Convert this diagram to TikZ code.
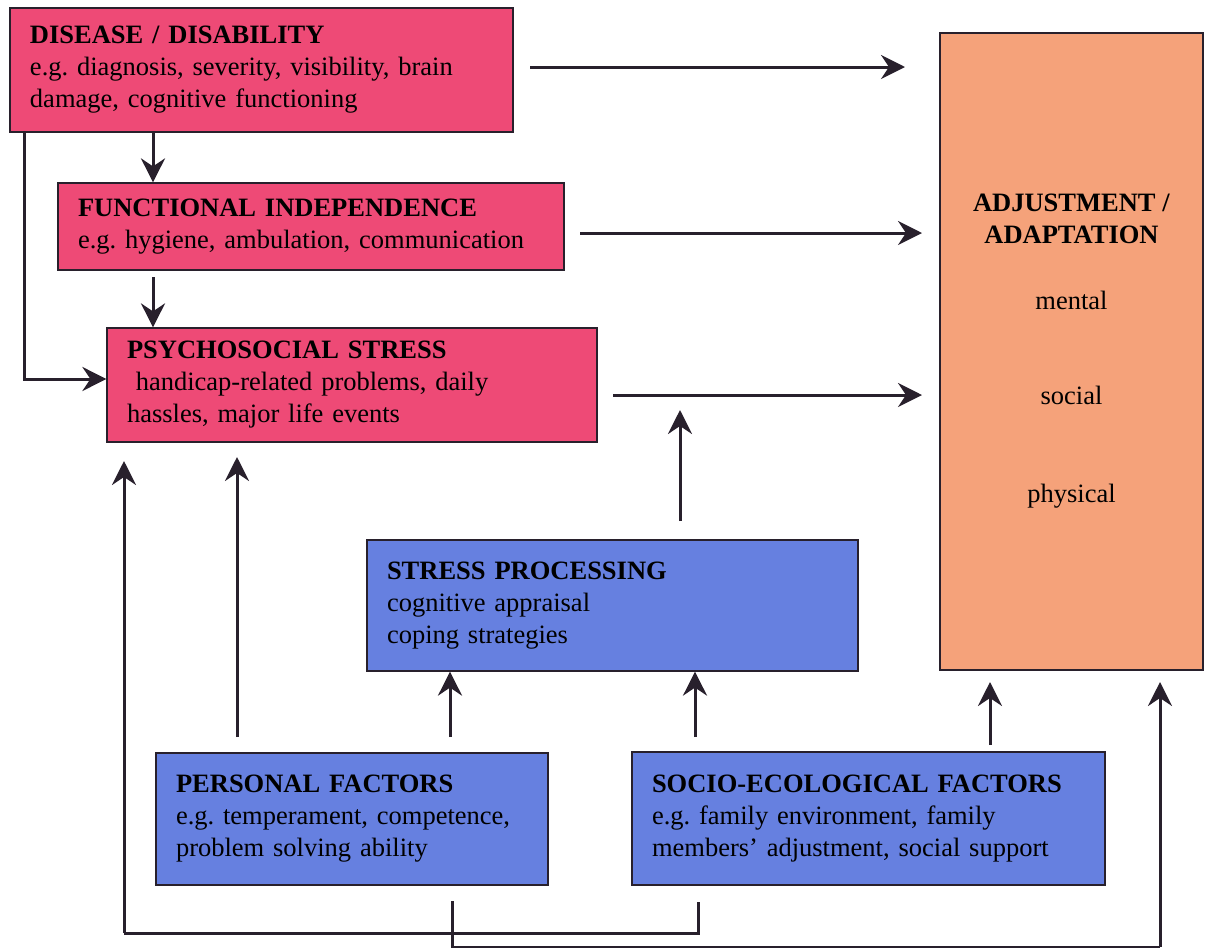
\documentclass[tikz,border=0pt]{standalone}
\usepackage{fontspec}
\setmainfont{Liberation Serif}
\usetikzlibrary{arrows.meta}

\definecolor{boxpink}{RGB}{238,74,118}
\definecolor{boxblue}{RGB}{102,128,224}
\definecolor{boxorange}{RGB}{245,162,122}
\definecolor{linedark}{RGB}{40,32,44}

\tikzset{
  box/.style={draw=linedark,line width=1.2pt,inner xsep=20pt,inner ysep=0pt,
    align=left,font=\fontsize{26.5}{32}\selectfont},
  pinkbox/.style={box,fill=boxpink},
  bluebox/.style={box,fill=boxblue},
  arr/.style={draw=linedark,line width=3pt,
    -{Stealth[length=24pt,width=24pt,inset=8pt]}},
  plain/.style={draw=linedark,line width=3pt}
}

\begin{document}
\begin{tikzpicture}[x=1pt,y=-1pt]
\useasboundingbox (0,0) rectangle (1211,948);

% left column
\node[pinkbox,minimum width=503pt,minimum height=124pt,text width=463pt] (dis) at (261.5,70)
  {\textbf{DISEASE / DISABILITY}\\e.g.\ diagnosis, severity, visibility, brain\\damage, cognitive functioning};
\node[pinkbox,minimum width=506pt,minimum height=87pt,text width=466pt] (fun) at (311,226.5)
  {\textbf{FUNCTIONAL INDEPENDENCE}\\e.g.\ hygiene, ambulation, communication};
\node[pinkbox,minimum width=490pt,minimum height=114pt,text width=450pt] (psy) at (352,385)
  {\textbf{PSYCHOSOCIAL STRESS}\\\ handicap-related problems, daily\\hassles, major life events};

% outcome
\node[box,fill=boxorange,align=center,minimum width=263pt,minimum height=637pt] (adj) at (1071.5,351.5)
  {\textbf{ADJUSTMENT /}\\\textbf{ADAPTATION}\\[34pt]mental\\[63pt]social\\[66pt]physical};

% moderators
\node[bluebox,minimum width=491pt,minimum height=131pt,text width=451pt] (spr) at (612.5,605.5)
  {\textbf{STRESS PROCESSING}\\cognitive appraisal\\coping strategies\\[10pt]};
\node[bluebox,minimum width=392pt,minimum height=132pt,text width=352pt] (per) at (352,819)
  {\textbf{PERSONAL FACTORS}\\e.g.\ temperament, competence,\\problem solving ability};
\node[bluebox,minimum width=473pt,minimum height=133pt,text width=433pt] (soc) at (868.5,818.5)
  {\textbf{SOCIO-ECOLOGICAL FACTORS}\\e.g.\ family environment, family\\members' adjustment, social support};

\coordinate (lowL) at (124,933);
\coordinate (lowR) at (1160,947);

% down the left column
\draw[arr] (dis.south -| 153,0) -- (fun.north -| 153,0);
\draw[arr] (153,277) -- (psy.north -| 153,0);
\draw[arr] (dis.south -| 24,0) -- (24,379) -- (psy.west |- 0,379);

% into adjustment
\draw[arr] (530,67) -- (905,67);
\draw[arr] (580,233) -- (922,233);
\draw[arr] (613,395) -- (922,395);

% upward arrows
\draw[arr] (680,521) -- (680,410);
\draw[arr] (237,737) -- (237,457);
\draw[arr] (450,737) -- (spr.south -| 450,0);
\draw[arr] (695,737) -- (spr.south -| 695,0);
\draw[arr] (990,745) -- (990,682);

% bottom lines
\draw[plain] (698,902) -- (698,933) -- (lowL);
\draw[arr] (lowL) -- (124,461);
\draw[plain] (452,901) -- (452,947) -- (lowR);
\draw[arr] (lowR) -- (1160,682);
\end{tikzpicture}
\end{document}
